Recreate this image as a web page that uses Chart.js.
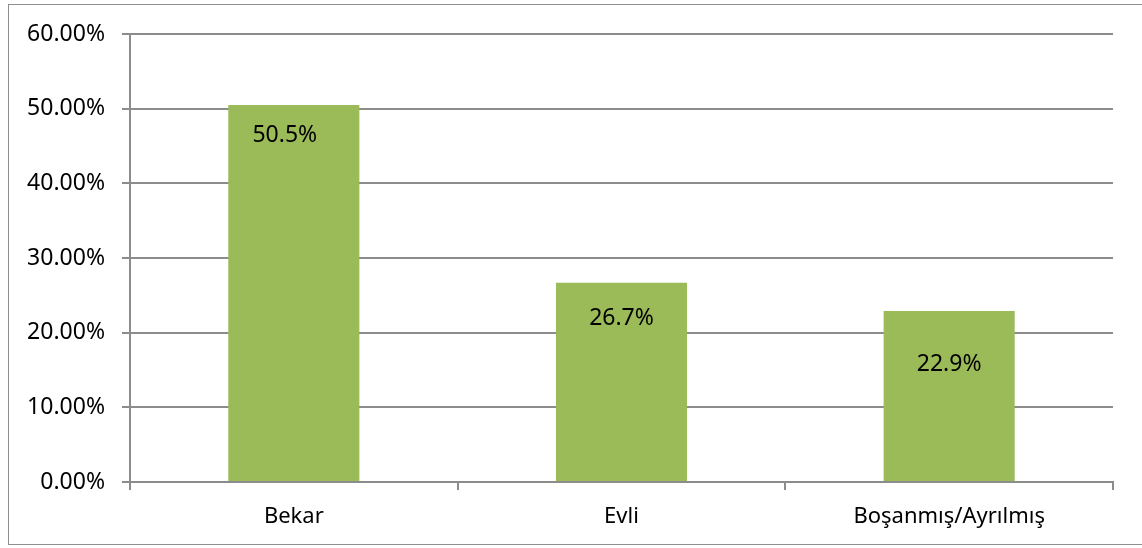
<!DOCTYPE html>
<html>
<head>
<meta charset="utf-8">
<script src="https://cdn.jsdelivr.net/npm/chart.js@4.4.1/dist/chart.umd.min.js"></script>
<style>
  html, body { margin: 0; padding: 0; background: #fff; }
  #wrap { position: relative; width: 1142px; height: 548px; overflow: hidden; }
  #frame { position: absolute; left: 8px; top: 4px; width: 1150px; height: 541px; border: 1.5px solid #8f8f8f; box-sizing: border-box; }
  #c { position: absolute; left: 0; top: 0; }
</style>
</head>
<body>
<div id="wrap">
  <div id="frame"></div>
  <canvas id="c" width="1142" height="548"></canvas>
</div>
<script>
// Marital status shares (percent)
const categories = ['Bekar', 'Evli', 'Boşanmış/Ayrılmış'];
const shares = [50.5, 26.7, 22.9];
const yTicks = [0, 10, 20, 30, 40, 50, 60];

// Placement of each value label relative to its bar (px): below the top, and sideways
const labelDrop = [31, 36, 53];
const labelShift = [-9, 0, 0];

const FONT = '"Noto Sans", "Open Sans", sans-serif';
const GRID = '#8c8c8c';
const BAR = '#9bbb59';

const barLabels = {
  id: 'barLabels',
  afterDatasetsDraw(chart) {
    const ctx = chart.ctx;
    const meta = chart.getDatasetMeta(0);
    ctx.save();
    ctx.font = '23px ' + FONT;
    ctx.fillStyle = '#000';
    ctx.textAlign = 'center';
    ctx.textBaseline = 'middle';
    meta.data.forEach((bar, i) => {
      ctx.fillText(shares[i].toFixed(1) + '%', bar.x + labelShift[i], bar.y + labelDrop[i]);
    });
    ctx.restore();
  }
};

new Chart(document.getElementById('c'), {
  type: 'bar',
  data: {
    labels: categories,
    datasets: [{
      data: shares,
      backgroundColor: BAR,
      borderWidth: 0,
      categoryPercentage: 1,
      barPercentage: 0.4
    }]
  },
  options: {
    responsive: false,
    animation: false,
    devicePixelRatio: 1,
    layout: { padding: { top: 34, right: 29, left: 0, bottom: 0 } },
    plugins: { legend: { display: false }, tooltip: { enabled: false } },
    scales: {
      x: {
        offset: true,
        grid: {
          offset: true,
          drawOnChartArea: false,
          color: GRID,
          lineWidth: 2,
          tickLength: 8
        },
        border: { color: GRID, width: 2 },
        ticks: { color: '#000', font: { family: FONT, size: 22 }, padding: 14, maxRotation: 0 },
        afterFit(scale) { scale.height = 66; }
      },
      y: {
        min: 0,
        max: 60,
        afterBuildTicks(scale) { scale.ticks = yTicks.map(v => ({ value: v })); },
        grid: { color: GRID, lineWidth: 2, tickLength: 8 },
        border: { color: GRID, width: 2 },
        ticks: {
          color: '#000',
          font: { family: FONT, size: 23 },
          padding: 17,
          callback: v => v.toFixed(2) + '%'
        },
        afterFit(scale) { scale.width = 130; }
      }
    }
  },
  plugins: [barLabels]
});
</script>
</body>
</html>
